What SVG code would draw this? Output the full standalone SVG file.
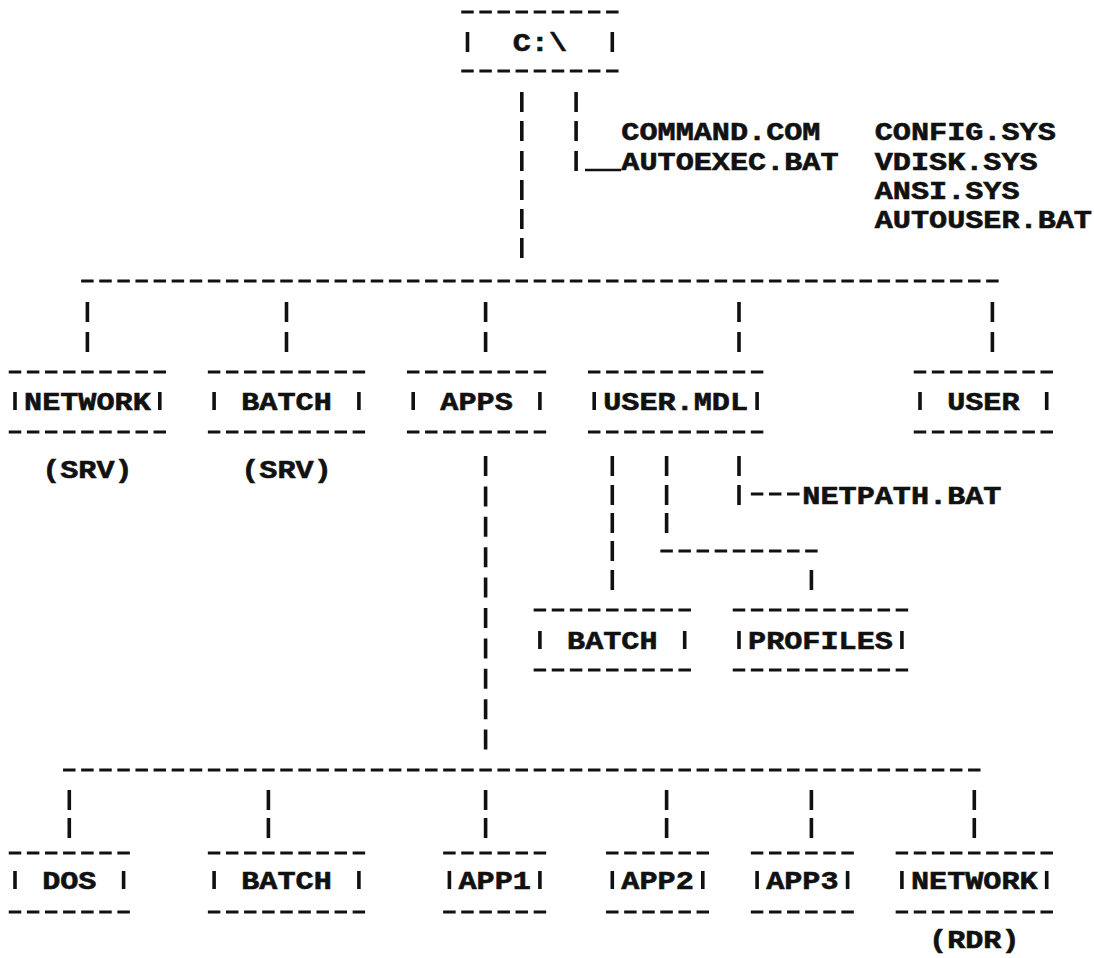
<svg xmlns="http://www.w3.org/2000/svg" width="1094" height="958" viewBox="0 0 1094 958">
<defs>
<style>
.t { font-family: "Liberation Mono", "DejaVu Sans Mono", monospace; font-weight: bold; font-size: 26px; fill: #111; stroke: #111; stroke-width: 0.6; }
.d { stroke: #111; stroke-width: 3.2; stroke-dasharray: 12.5 5.6; fill: none; }
.p { stroke: #111; stroke-width: 3.6; fill: none; }
.u { stroke: #111; stroke-width: 2.6; fill: none; }
</style>
</defs>
<rect width="1094" height="958" fill="#fff"/>

<g id="connectors">
  <!-- from C:\ -->
  <path class="p" d="M521.8 92 V112 M521.8 121 V141 M521.8 151 V171 M521.8 180 V200 M521.8 209 V229 M521.8 238 V258"/>
  <path class="p" d="M576.1 92 V112 M576.1 121 V141 M576.1 151 V171"/>
  <path class="u" d="M585 170 H621"/>
  <!-- level 1 bus -->
  <path class="d" d="M81.15 281 H998.65"/>
  <path class="p" d="M87.4 302 V322 M87.4 332 V352 M286.5 302 V322 M286.5 332 V352 M485.6 302 V322 M485.6 332 V352 M739 302 V322 M739 332 V352 M992.4 302 V322 M992.4 332 V352"/>
  <!-- USER.MDL subtree -->
  <path class="p" d="M612.3 456 V476 M612.3 485 V505 M612.3 513 V533 M612.3 541 V561 M612.3 570 V590"/>
  <path class="p" d="M666.6 456 V476 M666.6 485 V505 M666.6 513 V533"/>
  <path class="p" d="M739 456 V476 M739 485 V505"/>
  <path class="d" d="M750.85 494 H799.55"/>
  <path class="d" d="M660.35 551 H817.65"/>
  <path class="p" d="M811.4 570 V590"/>
  <!-- APPS column -->
  <path class="p" d="M485.6 456 V476 M485.6 486.4 V506.4 M485.6 516.8 V536.8 M485.6 547.2 V567.2 M485.6 577.6 V597.6 M485.6 608 V628 M485.6 638.4 V658.4 M485.6 668.8 V688.8 M485.6 699.2 V719.2 M485.6 729.6 V749.6"/>
  <!-- level 2 bus -->
  <path class="d" d="M63.05 770 H980.55"/>
  <path class="p" d="M69.3 790 V810 M69.3 818 V838 M268.4 790 V810 M268.4 818 V838 M485.6 790 V810 M485.6 818 V838 M666.6 790 V810 M666.6 818 V838 M811.4 790 V810 M811.4 818 V838 M974.3 790 V810 M974.3 818 V838"/>
</g>

<g id="node-root">
  <path class="d" d="M461.25 12 H618.55 M461.25 71 H618.55"/>
  <path class="p" d="M467.5 32 V52 M612.3 32 V52"/>
  <text class="t" x="512.75" y="51" textLength="54.3" lengthAdjust="spacingAndGlyphs">C:\</text>
</g>

<g id="node-root-files">
  <text class="t" x="621.35" y="140" textLength="199.1" lengthAdjust="spacingAndGlyphs">COMMAND.COM</text>
  <text class="t" x="621.35" y="170" textLength="217.2" lengthAdjust="spacingAndGlyphs">AUTOEXEC.BAT</text>
  <text class="t" x="874.75" y="140" textLength="181" lengthAdjust="spacingAndGlyphs">CONFIG.SYS</text>
  <text class="t" x="874.75" y="170" textLength="162.9" lengthAdjust="spacingAndGlyphs">VDISK.SYS</text>
  <text class="t" x="874.75" y="199" textLength="144.8" lengthAdjust="spacingAndGlyphs">ANSI.SYS</text>
  <text class="t" x="874.75" y="228" textLength="217.2" lengthAdjust="spacingAndGlyphs">AUTOUSER.BAT</text>
</g>

<g id="node-network-srv">
  <path class="d" d="M8.75 372 H166.05 M8.75 432 H166.05"/>
  <path class="p" d="M15 392 V410 M159.8 392 V410"/>
  <text class="t" x="24.05" y="410" textLength="126.7" lengthAdjust="spacingAndGlyphs">NETWORK</text>
  <text class="t" x="42.15" y="478" textLength="90.5" lengthAdjust="spacingAndGlyphs">(SRV)</text>
</g>

<g id="node-batch-srv">
  <path class="d" d="M207.85 372 H365.15 M207.85 432 H365.15"/>
  <path class="p" d="M214.1 392 V410 M358.9 392 V410"/>
  <text class="t" x="241.25" y="410" textLength="90.5" lengthAdjust="spacingAndGlyphs">BATCH</text>
  <text class="t" x="241.25" y="478" textLength="90.5" lengthAdjust="spacingAndGlyphs">(SRV)</text>
</g>

<g id="node-apps">
  <path class="d" d="M406.95 372 H546.15 M406.95 432 H546.15"/>
  <path class="p" d="M413.2 392 V410 M539.9 392 V410"/>
  <text class="t" x="440.35" y="410" textLength="72.4" lengthAdjust="spacingAndGlyphs">APPS</text>
</g>

<g id="node-user-mdl">
  <path class="d" d="M587.95 372 H763.35 M587.95 432 H763.35"/>
  <path class="p" d="M594.2 392 V410 M757.1 392 V410"/>
  <text class="t" x="603.25" y="410" textLength="144.8" lengthAdjust="spacingAndGlyphs">USER.MDL</text>
</g>

<g id="node-netpath">
  <text class="t" x="802.35" y="503.5" textLength="199.1" lengthAdjust="spacingAndGlyphs">NETPATH.BAT</text>
</g>

<g id="node-user">
  <path class="d" d="M913.75 372 H1052.95 M913.75 432 H1052.95"/>
  <path class="p" d="M920 392 V410 M1046.7 392 V410"/>
  <text class="t" x="947.15" y="410" textLength="72.4" lengthAdjust="spacingAndGlyphs">USER</text>
</g>

<g id="node-batch-user">
  <path class="d" d="M533.65 610 H690.95 M533.65 670 H690.95"/>
  <path class="p" d="M539.9 631 V649 M684.7 631 V649"/>
  <text class="t" x="567.05" y="649" textLength="90.5" lengthAdjust="spacingAndGlyphs">BATCH</text>
</g>

<g id="node-profiles">
  <path class="d" d="M732.75 610 H908.15 M732.75 670 H908.15"/>
  <path class="p" d="M739 631 V649 M901.9 631 V649"/>
  <text class="t" x="748.05" y="649" textLength="144.8" lengthAdjust="spacingAndGlyphs">PROFILES</text>
</g>

<g id="node-dos">
  <path class="d" d="M8.75 853 H129.85 M8.75 912 H129.85"/>
  <path class="p" d="M15 871 V889 M123.6 871 V889"/>
  <text class="t" x="42.15" y="889" textLength="54.3" lengthAdjust="spacingAndGlyphs">DOS</text>
</g>

<g id="node-batch-apps">
  <path class="d" d="M207.85 853 H365.15 M207.85 912 H365.15"/>
  <path class="p" d="M214.1 871 V889 M358.9 871 V889"/>
  <text class="t" x="241.25" y="889" textLength="90.5" lengthAdjust="spacingAndGlyphs">BATCH</text>
</g>

<g id="node-app1">
  <path class="d" d="M443.15 853 H546.15 M443.15 912 H546.15"/>
  <path class="p" d="M449.4 871 V889 M539.9 871 V889"/>
  <text class="t" x="458.45" y="889" textLength="72.4" lengthAdjust="spacingAndGlyphs">APP1</text>
</g>

<g id="node-app2">
  <path class="d" d="M606.05 853 H709.05 M606.05 912 H709.05"/>
  <path class="p" d="M612.3 871 V889 M702.8 871 V889"/>
  <text class="t" x="621.35" y="889" textLength="72.4" lengthAdjust="spacingAndGlyphs">APP2</text>
</g>

<g id="node-app3">
  <path class="d" d="M750.85 853 H853.85 M750.85 912 H853.85"/>
  <path class="p" d="M757.1 871 V889 M847.6 871 V889"/>
  <text class="t" x="766.15" y="889" textLength="72.4" lengthAdjust="spacingAndGlyphs">APP3</text>
</g>

<g id="node-network-rdr">
  <path class="d" d="M895.65 853 H1052.95 M895.65 912 H1052.95"/>
  <path class="p" d="M901.9 871 V889 M1046.7 871 V889"/>
  <text class="t" x="910.95" y="889" textLength="126.7" lengthAdjust="spacingAndGlyphs">NETWORK</text>
  <text class="t" x="929.05" y="948" textLength="90.5" lengthAdjust="spacingAndGlyphs">(RDR)</text>
</g>
</svg>
